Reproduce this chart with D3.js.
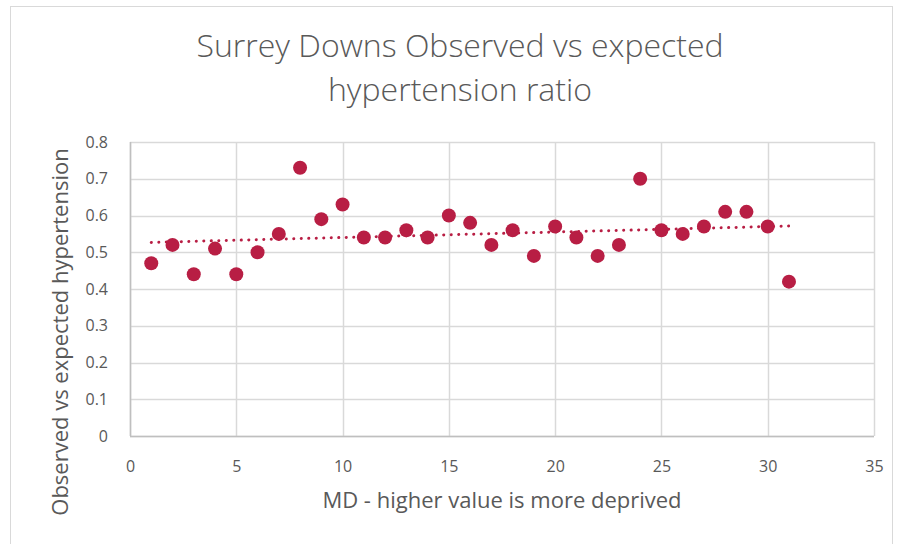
<!DOCTYPE html>
<html><head><meta charset="utf-8">
<script src="https://cdn.jsdelivr.net/npm/d3@7/dist/d3.min.js"></script>
<style>body{margin:0;background:#fff}svg{display:block}text{font-family:"Open Sans",Lato,sans-serif;fill:#595959}</style>
</head><body>
<script>
const xValues = [1,2,3,4,5,6,7,8,9,10,11,12,13,14,15,16,17,18,19,20,21,22,23,24,25,26,27,28,29,30,31];
const ratios = [0.47,0.52,0.44,0.51,0.44,0.50,0.55,0.73,0.59,0.63,0.54,0.54,0.56,0.54,0.60,0.58,0.52,0.56,0.49,0.57,0.54,0.49,0.52,0.70,0.56,0.55,0.57,0.61,0.61,0.57,0.42];
const xTicks = [0,5,10,15,20,25,30,35];
const yTicks = [0,0.1,0.2,0.3,0.4,0.5,0.6,0.7,0.8];
const titleLines = ["Surrey Downs Observed vs expected","hypertension ratio"];
const xTitle = "MD - higher value is more deprived";
const yTitle = "Observed vs expected hypertension";

const W=900,H=544, L=130,R=874,T=142,B=436;
const svg=d3.select("body").append("svg").attr("width",W).attr("height",H);
svg.append("rect").attr("x",10.5).attr("y",6.5).attr("width",882).attr("height",560).attr("fill","#fff").attr("stroke","#d9d9d9");

const x=d3.scaleLinear().domain([0,35]).range([L,R]);
const y=d3.scaleLinear().domain([0,0.8]).range([B,T]);

// gridlines
svg.append("g").selectAll("line").data(yTicks).join("line")
  .attr("x1",L).attr("x2",R).attr("y1",d=>Math.round(y(d))+0.5).attr("y2",d=>Math.round(y(d))+0.5)
  .attr("stroke","#d9d9d9").attr("stroke-width",1.5);
svg.append("g").selectAll("line").data(xTicks).join("line")
  .attr("y1",T).attr("y2",B).attr("x1",d=>Math.round(x(d))+0.5).attr("x2",d=>Math.round(x(d))+0.5)
  .attr("stroke","#d9d9d9").attr("stroke-width",1.5);
// axis lines
svg.append("line").attr("x1",L).attr("x2",R).attr("y1",B+0.5).attr("y2",B+0.5).attr("stroke","#bfbfbf").attr("stroke-width",1.5);
svg.append("line").attr("x1",L+0.5).attr("x2",L+0.5).attr("y1",T).attr("y2",B).attr("stroke","#bfbfbf").attr("stroke-width",1.5);

// tick labels via axes
const xAxis=svg.append("g").attr("transform",`translate(0,${B})`).call(d3.axisBottom(x).tickValues(xTicks).tickSize(0).tickPadding(25).tickFormat(d3.format("d")));
const yAxis=svg.append("g").attr("transform",`translate(${L},0)`).call(d3.axisLeft(y).tickValues(yTicks).tickSize(0).tickPadding(22).tickFormat(d=>d===0?"0":d3.format(".1f")(d)));
[xAxis,yAxis].forEach(a=>{a.select(".domain").remove();a.selectAll("text").attr("font-size",16).attr("fill","#595959").style("font-family","'Open Sans',Lato,sans-serif");});

// trendline (least squares)
const n=xValues.length, mx=d3.mean(xValues), my=d3.mean(ratios);
let sxy=0,sxx=0; for(let i=0;i<n;i++){sxy+=(xValues[i]-mx)*(ratios[i]-my);sxx+=(xValues[i]-mx)**2;}
const slope=sxy/sxx, icpt=my-slope*mx;
const x0=d3.min(xValues), x1=d3.max(xValues);
svg.append("line").attr("x1",x(x0)).attr("y1",y(icpt+slope*x0)).attr("x2",x(x1)).attr("y2",y(icpt+slope*x1))
  .attr("stroke","#b81e44").attr("stroke-width",3).attr("stroke-linecap","round").attr("stroke-dasharray","0.1 7.4");

// points
svg.append("g").selectAll("circle").data(xValues).join("circle")
  .attr("cx",d=>x(d)).attr("cy",(d,i)=>y(ratios[i])).attr("r",7).attr("fill","#b81e44");

// titles
svg.append("text").attr("x",460).attr("text-anchor","middle").attr("font-size",32).style("font-weight",300)
  .selectAll("tspan").data(titleLines).join("tspan").attr("x",460).attr("y",(d,i)=>57+i*44).text(d=>d);
svg.append("text").attr("x",502).attr("y",508).attr("text-anchor","middle").attr("font-size",22).text(xTitle);
svg.append("text").attr("transform","translate(68,332) rotate(-90)").attr("text-anchor","middle").attr("font-size",22).text(yTitle);
</script>
</body></html>
